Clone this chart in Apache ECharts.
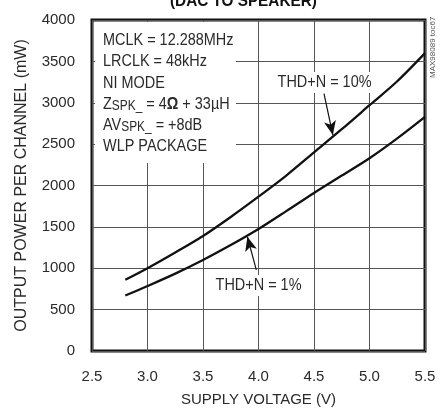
<!DOCTYPE html>
<html>
<head>
<meta charset="utf-8">
<script src="https://cdn.jsdelivr.net/npm/echarts@6/dist/echarts.min.js"></script>
<style>
  html, body { margin: 0; padding: 0; background: #fff; }
  #chart { width: 448px; height: 413px; }
</style>
</head>
<body>
<div id="chart"></div>
<script>
// supply voltage (V)
var voltage = [2.8, 3.0, 3.25, 3.5, 3.75, 4.0, 4.25, 4.5, 4.75, 5.0, 5.25, 5.5];
// output power per channel (mW)
var thd10 = [860, 1000, 1190, 1390, 1620, 1865, 2120, 2400, 2680, 2970, 3260, 3600];
var thd1 = [670, 785, 935, 1100, 1280, 1474, 1690, 1910, 2120, 2330, 2570, 2830];
var xTicks = ['2.5', '3.0', '3.5', '4.0', '4.5', '5.0', '5.5'];
var yTicks = [0, 500, 1000, 1500, 2000, 2500, 3000, 3500, 4000];
// arrow ends, in data units
var arrow10 = [[4.59, 3110], [4.67, 2610]];
var arrow1 = [[3.98, 980], [3.90, 1380]];

var FONT = '"Liberation Sans", Arial, sans-serif';
var TXT = '#2a2a2a';

function pairs(xs, ys) {
  return xs.map(function (x, i) { return [x, ys[i]]; });
}

var chart = echarts.init(document.getElementById('chart'));

var option = {
  animation: false,
  grid: {
    left: 92, right: 23, top: 20, bottom: 62,
    show: true,
    borderColor: '#111',
    borderWidth: 3
  },
  xAxis: {
    type: 'value',
    min: 2.5, max: 5.5, interval: 0.5,
    name: 'SUPPLY VOLTAGE (V)',
    nameLocation: 'middle',
    nameGap: 41,
    nameTextStyle: { fontFamily: FONT, fontSize: 15, color: TXT },
    axisLine: { show: false },
    axisTick: { show: false },
    axisLabel: {
      margin: 18,
      fontFamily: FONT, fontSize: 15, color: TXT,
      formatter: function (v) {
        var i = Math.round((v - 2.5) / 0.5);
        return xTicks[i];
      }
    },
    splitLine: { show: true, lineStyle: { color: '#555', width: 1 } }
  },
  yAxis: {
    type: 'value',
    min: 0, max: 4000, interval: 500,
    name: 'OUTPUT POWER PER CHANNEL (mW)',
    nameLocation: 'middle',
    nameGap: 62,
    nameTextStyle: { fontFamily: FONT, fontSize: 16, color: TXT },
    axisLine: { show: false },
    axisTick: { show: false },
    axisLabel: {
      margin: 17,
      fontFamily: FONT, fontSize: 15, color: TXT,
      formatter: function (v) { return yTicks.indexOf(v) >= 0 ? String(v) : ''; }
    },
    splitLine: { show: true, lineStyle: { color: '#555', width: 1 } }
  },
  series: [
    {
      name: 'THD+N = 10%',
      type: 'line',
      data: pairs(voltage, thd10),
      smooth: 0.3,
      symbol: 'none',
      lineStyle: { color: '#111', width: 2.3 },
      z: 5,
      markLine: {
        silent: true,
        symbol: ['none', 'arrow'],
        symbolSize: [9, 14],
        label: { show: false },
        lineStyle: { color: '#111', width: 1.2, type: 'solid' },
        data: [[{ coord: arrow10[0] }, { coord: arrow10[1] }]]
      }
    },
    {
      name: 'THD+N = 1%',
      type: 'line',
      data: pairs(voltage, thd1),
      smooth: 0.3,
      symbol: 'none',
      lineStyle: { color: '#111', width: 2.3 },
      z: 5,
      markLine: {
        silent: true,
        symbol: ['none', 'arrow'],
        symbolSize: [9, 14],
        label: { show: false },
        lineStyle: { color: '#111', width: 1.2, type: 'solid' },
        data: [[{ coord: arrow1[0] }, { coord: arrow1[1] }]]
      }
    }
  ],
  graphic: [
    {
      // title, mostly cut off by the top edge
      type: 'text', x: 170, y: 10, scaleX: 0.9,
      style: {
        text: '(DAC TO SPEAKER)', font: 'bold 17px ' + FONT, fill: '#111',
        verticalAlign: 'bottom'
      }
    },
    {
      type: 'rect', shape: { x: 95, y: 22, width: 141, height: 141 },
      style: { fill: '#fff' }, z: 3
    },
    {
      type: 'text', x: 103, y: 30, z: 4, scaleX: 0.85,
      style: {
        text: 'MCLK = 12.288MHz\nLRCLK = 48kHz\nNI MODE\nZ{s|SPK_} = 4{b|Ω} + 33µH\nAV{s|SPK_} = +8dB\nWLP PACKAGE',
        font: '17px ' + FONT,
        fill: TXT,
        lineHeight: 21.2,
        rich: {
          s: { fontFamily: FONT, fontSize: 14, fill: TXT, padding: [4, 0, 0, 0] },
          b: { fontFamily: FONT, fontSize: 17, fontWeight: 'bold', fill: TXT }
        }
      }
    },
    {
      type: 'text', x: 275, y: 72, z: 4, scaleX: 0.85,
      style: {
        text: 'THD+N = 10%', font: '17px ' + FONT, fill: TXT,
        backgroundColor: '#fff', padding: [2, 3]
      }
    },
    {
      type: 'text', x: 213, y: 275, z: 4, scaleX: 0.85,
      style: {
        text: 'THD+N = 1%', font: '17px ' + FONT, fill: TXT,
        backgroundColor: '#fff', padding: [2, 3]
      }
    },
    {
      type: 'text', x: 429, y: 78, rotation: Math.PI / 2,
      style: { text: 'MAX98089 toc67', font: '8px ' + FONT, fill: '#555' }
    }
  ]
};

chart.setOption(option);
</script>
</body>
</html>
